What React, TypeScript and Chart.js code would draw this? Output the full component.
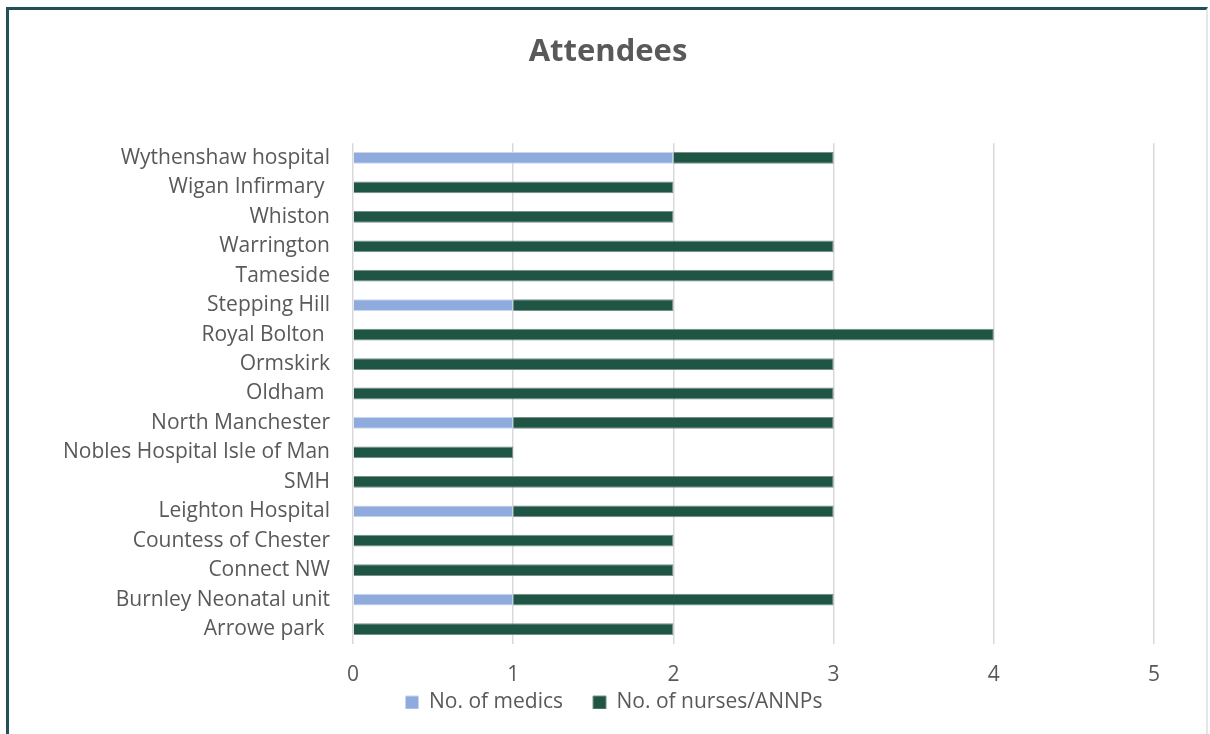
import React, { useEffect, useRef } from "react";
import { Chart, registerables } from "chart.js";

Chart.register(...registerables);

const categories = [
  "Wythenshaw hospital",
  "Wigan Infirmary ",
  "Whiston",
  "Warrington",
  "Tameside",
  "Stepping Hill",
  "Royal Bolton ",
  "Ormskirk",
  "Oldham ",
  "North Manchester",
  "Nobles Hospital Isle of Man",
  "SMH",
  "Leighton Hospital",
  "Countess of Chester",
  "Connect NW",
  "Burnley Neonatal unit",
  "Arrowe park ",
];
const medics = [2, 0, 0, 0, 0, 1, 0, 0, 0, 1, 0, 0, 1, 0, 0, 1, 0];
const nurses = [1, 2, 2, 3, 3, 1, 4, 3, 3, 2, 1, 3, 2, 2, 2, 2, 2];
const seriesNames = ["No. of medics", "No. of nurses/ANNPs"];
const xTicks = [0, 1, 2, 3, 4, 5];

const FONT = "'Open Sans', Lato, sans-serif";
const TEXT = "#595959";

const shiftLegend = {
  id: "shiftLegend",
  afterLayout(chart: any) {
    const l = chart.legend;
    if (l) {
      l.top -= 45;
      l.bottom -= 45;
      l.left += 6;
      l.right += 6;
    }
  },
};

export default function App() {
  const ref = useRef<HTMLCanvasElement | null>(null);
  useEffect(() => {
    document.body.style.margin = "0";
    const ctx = ref.current!;
    const chart = new Chart(ctx, {
      type: "bar",
      data: {
        labels: categories,
        datasets: [
          {
            label: seriesNames[0],
            data: medics,
            backgroundColor: "#8FAADC",
            borderColor: "#C9D6EE",
            borderWidth: 1,
            barPercentage: 0.8,
            categoryPercentage: 0.5,
          },
          {
            label: seriesNames[1],
            data: nurses,
            backgroundColor: "#1F5545",
            borderColor: "#7A8F88",
            borderWidth: 1,
            barPercentage: 0.8,
            categoryPercentage: 0.5,
          },
        ],
      },
      plugins: [shiftLegend],
      options: {
        indexAxis: "y",
        animation: false,
        responsive: false,
        maintainAspectRatio: false,
        layout: { padding: { left: 62, right: 56, top: 34, bottom: -20 } },
        plugins: {
          title: {
            display: true,
            text: "Attendees",
            color: TEXT,
            font: { family: FONT, size: 31, weight: "bold" },
            padding: { top: 0, bottom: 72 },
          },
          legend: {
            position: "bottom",
            maxHeight: 47,
            labels: {
              color: TEXT,
              font: { family: FONT, size: 21 },
              boxWidth: 13,
              boxHeight: 13,
              padding: 30,
              useBorderRadius: false,
            },
          },
          tooltip: { enabled: false },
        },
        scales: {
          x: {
            stacked: true,
            min: 0,
            max: 5,
            afterBuildTicks: (axis: any) => {
              axis.ticks = xTicks.map((v) => ({ value: v }));
            },
            ticks: {
              color: TEXT,
              font: { family: FONT, size: 21 },
              padding: 19,
            },
            grid: { color: "#D9D9D9", lineWidth: 1.5, drawTicks: false },
            border: { display: false },
          },
          y: {
            stacked: true,
            afterFit: (axis: any) => {
              axis.width = 353 - 62;
            },
            ticks: {
              color: TEXT,
              font: { family: FONT, size: 21 },
              padding: 15,
            },
            grid: { display: false },
            border: { display: false },
          },
        },
      },
    });
    return () => chart.destroy();
  }, []);
  return (
    <div style={{ position: "fixed", left: 0, top: 0, width: 1210, height: 734, background: "#fff" }}>
      <canvas ref={ref} width={1210} height={734} style={{ position: "absolute", left: 0, top: 0 }} />
      <div
        style={{
          position: "absolute",
          left: 6,
          top: 7,
          width: 1202,
          height: 740,
          borderLeft: "3px solid #1F5156",
          borderTop: "3px solid #1F5156",
          borderRight: "2px solid #E6E6E6",
          pointerEvents: "none",
          boxSizing: "border-box",
        }}
      />
    </div>
  );
}
